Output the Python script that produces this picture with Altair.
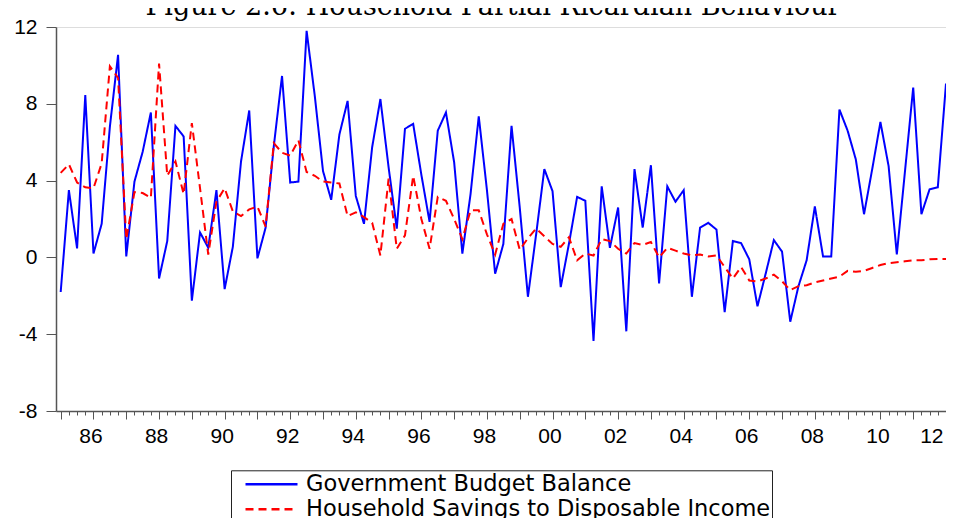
import altair as alt
import pandas as pd

TITLE = "Figure 2.6: Household Partial Ricardian Behaviour"
SERIES = ["Government Budget Balance", "Household Savings to Disposable Income"]
COLORS = ["#0000ff", "#ff0000"]
START_YEAR = 1985  # first observation: 1985Q1, quarterly data

gov = [-1.8, 3.5, 0.47, 8.45, 0.2, 1.75, 6.8, 10.55, 0.05, 3.95,
       5.5, 7.55, -1.1, 0.85, 6.85, 6.3, -2.25, 1.3, 0.5, 3.5,
       -1.65, 0.55, 5.0, 7.65, -0.05, 1.55, 5.8, 9.45, 3.9, 3.95,
       11.8, 8.4, 4.5, 3.0, 6.4, 8.15, 3.2, 1.75, 5.75, 8.25,
       4.7, 1.5, 6.7, 6.95, 4.3, 1.85, 6.6, 7.55, 4.95, 0.2,
       3.3, 7.35, 3.5, -0.85, 0.7, 6.85, 2.6, -2.05, 1.2, 4.6,
       3.45, -1.55, 0.7, 3.15, 2.95, -4.35, 3.7, 0.5, 2.6, -3.85,
       4.6, 1.55, 4.8, -1.35, 3.7, 2.9, 3.5, -2.05, 1.55, 1.8,
       1.45, -2.85, 0.85, 0.75, -0.1, -2.55, -0.85, 0.9, 0.3, -3.35,
       -1.5, -0.15, 2.65, 0.05, 0.05, 7.7, 6.6, 5.1, 2.25, 4.6,
       7.05, 4.75, 0.15, 4.5, 8.85, 2.25, 3.55, 3.65, 9.05, 4.6]

hh = [4.4, 4.85, 3.9, 3.65, 3.6, 4.9, 9.95, 9.35, 0.95, 3.4,
      3.35, 3.1, 10.1, 4.25, 5.0, 3.3, 7.0, 3.6, 0.15, 2.9,
      3.6, 2.4, 2.15, 2.5, 2.65, 1.6, 5.95, 5.45, 5.3, 6.1,
      4.45, 4.25, 3.95, 3.9, 3.85, 2.15, 2.35, 2.1, 1.8, 0.1,
      4.1, 0.45, 1.15, 4.25, 2.0, 0.45, 3.15, 2.95, 2.0, 0.95,
      2.45, 2.45, 1.2, 0.15, 1.75, 2.0, 0.4, 1.0, 1.5, 1.1,
      0.7, 0.55, 1.05, -0.15, 0.2, 0.1, 0.95, 0.85, 0.45, 0.2,
      0.75, 0.65, 0.8, 0.0, 0.5, 0.35, 0.2, 0.1, 0.15, 0.05,
      0.1, -0.5, -1.1, -0.5, -1.2, -1.25, -1.1, -0.9, -1.25, -1.7,
      -1.5, -1.45, -1.3, -1.2, -1.1, -1.0, -0.7, -0.75, -0.7, -0.55,
      -0.4, -0.3, -0.25, -0.2, -0.15, -0.15, -0.1, -0.08, -0.08, -0.05]

Y_TICKS = [-8, -4, 0, 4, 8, 12]
X_DOMAIN = [1984.857, 2012.0]
Y_DOMAIN = [-8, 12]

n = len(gov)
t = [START_YEAR + i / 4 for i in range(n)]
df = pd.DataFrame({
    "t": t + t,
    "value": gov + hh,
    "series": [SERIES[0]] * n + [SERIES[1]] * n,
})
quarter_ticks = [START_YEAR + i / 4 for i in range(0, 27 * 4 + 1)]

legend = alt.Legend(
    orient="none", legendX=175, legendY=443.3, title=None,
    direction="vertical", symbolType="stroke", symbolSize=2704,
    symbolStrokeWidth=2.5, clipHeight=25, padding=1.5, symbolOffset=11.5,
    labelOffset=7, rowPadding=0, labelFont="DejaVu Sans",
    labelFontSize=22.5, labelColor="black", labelLimit=700,
    strokeColor="#222222", fillColor="white",
)

lines = alt.Chart(df).mark_line(clip=True, strokeWidth=2).encode(
    x=alt.X("t:Q",
            scale=alt.Scale(domain=X_DOMAIN, nice=False, zero=False),
            axis=alt.Axis(
                values=quarter_ticks, title=None, grid=False,
                tickSize={"condition": {"test": "datum.value % 1 == 0", "value": 8}, "value": 4},
                labelExpr="datum.value % 2 == 0 ? substring(toString(datum.value), 2, 4) : ''",
                labelOverlap=False, labelPadding=6, labelOffset=-3,
                labelFont="Liberation Sans", labelFontSize=21, labelColor="black",
                domainColor="#555555", domainWidth=1.5, tickColor="#555555",
            )),
    y=alt.Y("value:Q",
            scale=alt.Scale(domain=Y_DOMAIN, nice=False, zero=False),
            axis=alt.Axis(
                values=Y_TICKS, title=None, grid=False, tickSize=10,
                labelExpr="toString(datum.value)",
                labelPadding=9, labelFont="Liberation Sans", labelFontSize=21,
                labelColor="black", domainColor="#555555", domainWidth=1.5,
                tickColor="#555555",
            )),
    color=alt.Color("series:N", sort=SERIES,
                    scale=alt.Scale(domain=SERIES, range=COLORS), legend=legend),
    strokeDash=alt.StrokeDash("series:N", sort=SERIES,
                              scale=alt.Scale(domain=SERIES, range=[[1, 0], [8, 5]]),
                              legend=legend),
)

title_df = pd.DataFrame({"title": [TITLE]})
title = alt.Chart(title_df).mark_text(
    font="DejaVu Serif", fontSize=27, align="center", baseline="alphabetic", color="black"
).encode(x=alt.value(437), y=alt.value(-12), text="title:N")

chart = alt.layer(lines, title).properties(
    width=890, height=384,
    autosize=alt.AutoSizeParams(type="none"),
    padding={"left": 48, "top": 19, "right": 0, "bottom": 107},
).configure_view(stroke="#333333", strokeWidth=1.5).configure(background="white")

chart.save("out.html", embed_options={"renderer": "svg", "actions": False})
